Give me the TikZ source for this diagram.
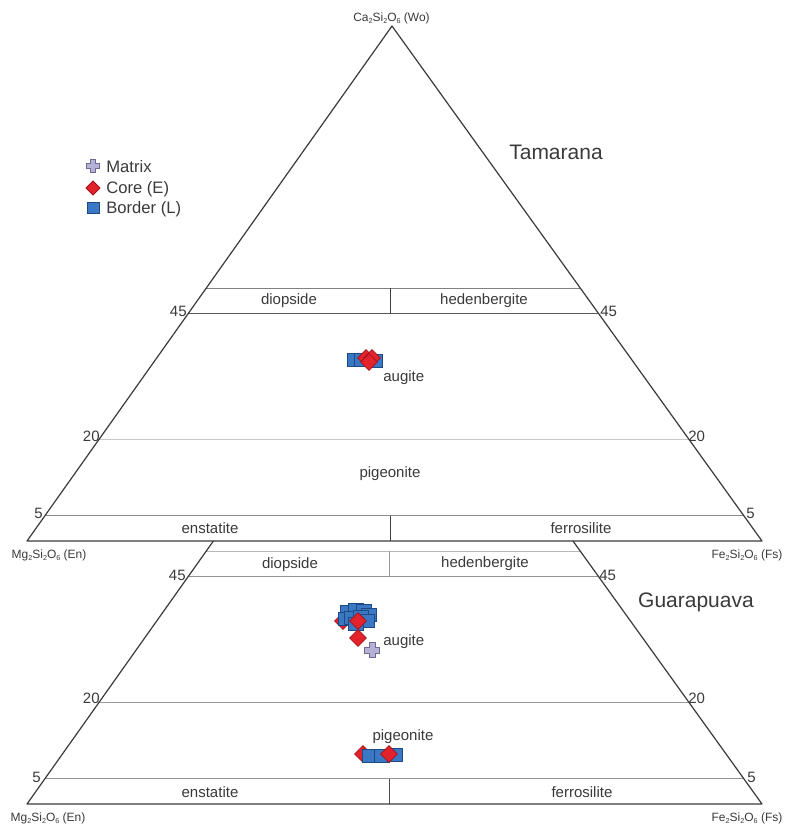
\documentclass[tikz,border=0pt]{standalone}
\usepackage{fontspec}
\setmainfont{Liberation Sans}
\definecolor{txt}{HTML}{3A3A3A}
\definecolor{edge}{HTML}{3A3A3A}
\definecolor{plusfill}{HTML}{B6B2D6}
\definecolor{plusedge}{HTML}{6E6A96}
\definecolor{diafill}{HTML}{E2232B}
\definecolor{diaedge}{HTML}{A3121A}
\definecolor{sqfill}{HTML}{3B78C3}
\definecolor{sqedge}{HTML}{1D4A85}
\newcommand{\subx}[1]{\raisebox{-0.35ex}{\fontsize{3.6}{4}\selectfont #1}}
\begin{document}
\begin{tikzpicture}[x=0.5pt,y=-0.5pt,
  outl/.style={draw=edge,line width=0.6pt,line join=round},
  gline/.style={draw=#1,line width=0.45pt},
  lbl/.style={font=\fontsize{7.5}{9}\selectfont,text=txt,inner sep=0pt},
  numlbl/.style={font=\fontsize{7.5}{9}\selectfont,text=txt,inner sep=0pt},
  cornerlbl/.style={font=\fontsize{6}{7}\selectfont,text=txt,inner sep=0pt},
  titlelbl/.style={font=\fontsize{10.5}{12}\selectfont,text=txt,inner sep=0pt},
  leglbl/.style={font=\fontsize{8.3}{10}\selectfont,text=txt,inner sep=0pt,anchor=west},
  plusmark/.pic={\draw[draw=plusedge,fill=plusfill,line width=0.4pt]
     (-2.5,-6.5)--(2.5,-6.5)--(2.5,-2.5)--(6.5,-2.5)--(6.5,2.5)--(2.5,2.5)--(2.5,6.5)
     --(-2.5,6.5)--(-2.5,2.5)--(-6.5,2.5)--(-6.5,-2.5)--(-2.5,-2.5)--cycle;},
  diamark/.pic={\draw[draw=diaedge,fill=diafill,line width=0.4pt]
     (0,-7)--(7,0)--(0,7)--(-7,0)--cycle;},
  sqmark/.pic={\draw[draw=sqedge,fill=sqfill,line width=0.4pt]
     (-6,-5.5) rectangle (6,5.5);},
  big/.style={scale=1.2}
]
\useasboundingbox (0,0) rectangle (787,827);

% ---------------- top triangle (Tamarana) ----------------
\coordinate (TA) at (392,26);
\coordinate (TL) at (27,541);
\coordinate (TR) at (762,541);
\draw[gline=black!50] (206.3,288) -- (580.2,288);
\draw[gline=black!65] (188.6,313) -- (598.2,313);
\draw[gline=black!22] (99.3,439) -- (688.7,439);
\draw[gline=black!45] (45.1,515.5) -- (743.7,515.5);
\draw[gline=black!75] (390,288) -- (390,313);
\draw[gline=black!75] (390,515.5) -- (390,541);
\draw[outl] (TL) -- (TA) -- (TR) -- cycle;

% ---------------- bottom triangle (Guarapuava) ----------------
\coordinate (BL) at (27,804);
\coordinate (BR) at (762,804);
\coordinate (BTL) at (213.4,541);
\coordinate (BTR) at (573.0,541);
\draw[gline=black!28] (206.3,551) -- (580.2,551);
\draw[gline=black!42] (188.6,576) -- (598.2,576);
\draw[gline=black!40] (99.3,702) -- (688.7,702);
\draw[gline=black!42] (45.1,778.5) -- (743.7,778.5);
\draw[gline=black!40] (389.5,551) -- (389.5,576);
\draw[gline=black!70] (389.5,778.5) -- (389.5,804);
\draw[outl] (BTL) -- (BL) -- (BR) -- (BTR);

% ---------------- corner labels ----------------
\node[cornerlbl] (wo) at (391.5,18) {Ca\subx{2}Si\subx{2}O\subx{6} (Wo)};
\node[cornerlbl] (en1) at (49,555) {Mg\subx{2}Si\subx{2}O\subx{6} (En)};
\node[cornerlbl] (fs1) at (747,555) {Fe\subx{2}Si\subx{2}O\subx{6} (Fs)};
\node[cornerlbl] (en2) at (48,818) {Mg\subx{2}Si\subx{2}O\subx{6} (En)};
\node[cornerlbl] (fs2) at (747,818) {Fe\subx{2}Si\subx{2}O\subx{6} (Fs)};

% ---------------- scale numbers ----------------
\node[numlbl,anchor=east] (t45l) at (187,311) {45};
\node[numlbl,anchor=west] (t45r) at (600,311) {45};
\node[numlbl,anchor=east] (t20l) at (100,436) {20};
\node[numlbl,anchor=west] (t20r) at (688,436) {20};
\node[numlbl,anchor=east] (t5l) at (43,513) {5};
\node[numlbl,anchor=west] (t5r) at (746,513) {5};
\node[numlbl,anchor=east] (b45l) at (186,575) {45};
\node[numlbl,anchor=west] (b45r) at (599,575) {45};
\node[numlbl,anchor=east] (b20l) at (100,698) {20};
\node[numlbl,anchor=west] (b20r) at (688,698) {20};
\node[numlbl,anchor=east] (b5l) at (41,777) {5};
\node[numlbl,anchor=west] (b5r) at (747,777) {5};

% ---------------- field names ----------------
\node[lbl] (tdi) at (289,301) {diopside};
\node[lbl] (thd) at (484,301) {hedenbergite};
\node[lbl,anchor=west] (tau) at (383,378) {augite};
\node[lbl] (tpg) at (390,474) {pigeonite};
\node[lbl] (ten) at (210,528) {enstatite};
\node[lbl] (tfs) at (581,528) {ferrosilite};
\node[lbl] (bdi) at (290,565) {diopside};
\node[lbl] (bhd) at (485,564) {hedenbergite};
\node[lbl,anchor=west] (bau) at (383,642) {augite};
\node[lbl] (bpg) at (403,737) {pigeonite};
\node[lbl] (ben) at (210,792) {enstatite};
\node[lbl] (bfs) at (582,792) {ferrosilite};

\node[titlelbl] (tam) at (556,152) {Tamarana};
\node[titlelbl] (gua) at (696,602) {Guarapuava};

% ---------------- legend ----------------
\pic at (93,166) {plusmark};
\pic at (93,188) {diamark};
\pic at (93,208) {sqmark};
\node[leglbl] (lm) at (106,167) {Matrix};
\node[leglbl] (lc) at (106,189) {Core (E)};
\node[leglbl] (lb) at (106,209) {Border (L)};

% ---------------- data: Tamarana ----------------
\pic[big] at (355,360) {sqmark};
\pic[big] at (362,360) {sqmark};
\pic[big] at (375,361) {sqmark};
\pic[big] at (366,358) {diamark};
\pic[big] at (372,358) {diamark};
\pic[big] at (369,362) {diamark};

% ---------------- data: Guarapuava augite ----------------
\pic[big] at (343,621) {diamark};
\pic[big] at (348,612) {sqmark};
\pic[big] at (356,610) {sqmark};
\pic[big] at (364,611) {sqmark};
\pic[big] at (369,615) {sqmark};
\pic[big] at (346,619) {sqmark};
\pic[big] at (352,618) {sqmark};
\pic[big] at (361,617) {sqmark};
\pic[big] at (367,621) {sqmark};
\pic[big] at (356,624) {sqmark};
\pic[big] at (358,621) {diamark};
\pic[big] at (358,638) {diamark};
\pic[big] at (372,650) {plusmark};

% ---------------- data: Guarapuava pigeonite ----------------
\pic[big] at (363,754) {diamark};
\pic[big] at (370,756) {sqmark};
\pic[big] at (382,756) {sqmark};
\pic[big] at (395,755) {sqmark};
\pic[big] at (389,754) {diamark};
\end{tikzpicture}
\end{document}
